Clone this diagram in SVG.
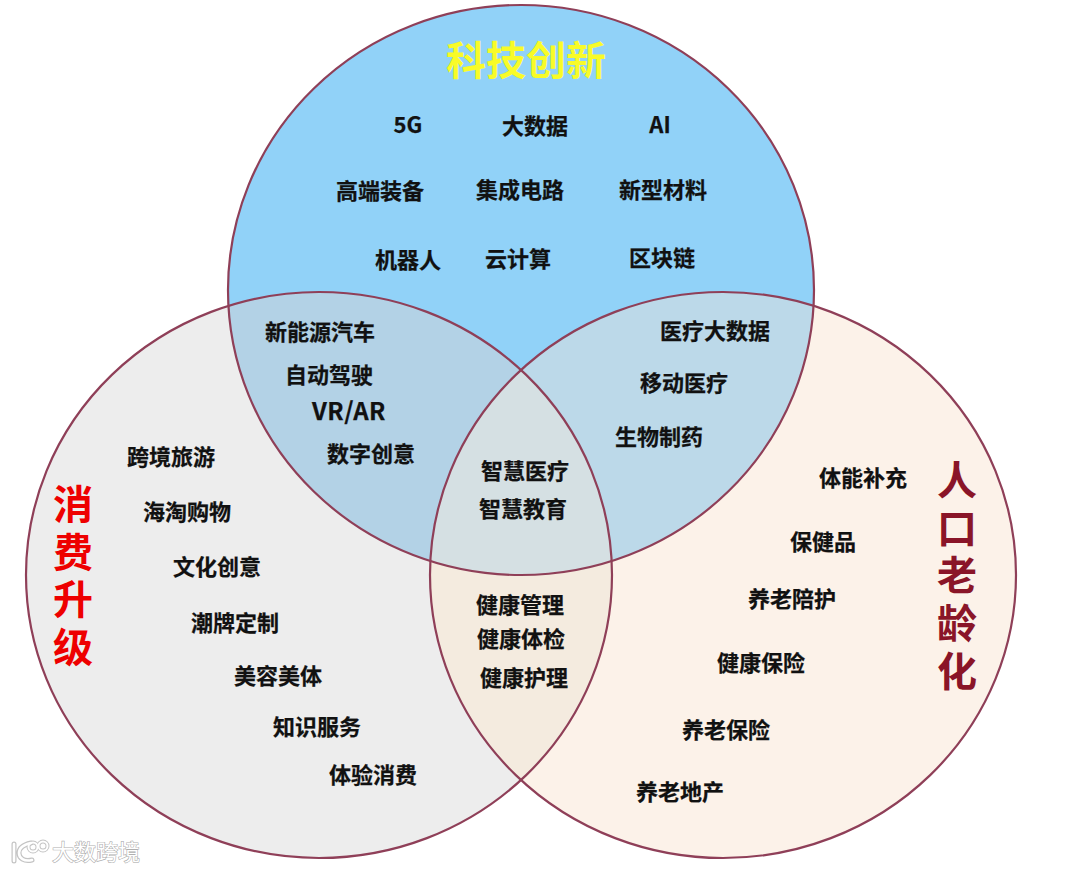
<svg xmlns="http://www.w3.org/2000/svg" width="1080" height="872" viewBox="0 0 1080 872">
<style>
text{font-family:"Noto Sans CJK SC","Liberation Sans",sans-serif;font-weight:700;text-anchor:middle}
.l{font-size:22px;fill:#111;stroke:#111;stroke-width:.25}
.v{writing-mode:vertical-rl;text-anchor:start;font-size:40px;letter-spacing:7.6px}
.o{fill:none;stroke:#8f3f58;stroke-width:2.2}
.wm{font-size:22px;font-weight:400;fill:#fff;stroke:#b0b0b0;stroke-width:1.2;paint-order:stroke}
.wg{fill:none;stroke:#c4c4c4;stroke-width:5;stroke-linecap:round}
.ww{fill:none;stroke:#fff;stroke-width:2.6;stroke-linecap:round}
</style>
<defs>
<clipPath id="cT"><ellipse cx="521" cy="290" rx="293" ry="285"/></clipPath>
<clipPath id="cL"><ellipse cx="319" cy="575" rx="293" ry="283"/></clipPath>
<clipPath id="cR"><ellipse cx="723" cy="575" rx="293" ry="283"/></clipPath>
<path id="logoA" d="M14 844V861M31 843C22 845 19 849 19 853C19 858 24 862 32 860"/>
</defs>
<rect width="1080" height="872" fill="#fff"/>
<g id="regions">
<ellipse cx="521" cy="290" rx="293" ry="285" fill="#91d2f8"/>
<ellipse cx="319" cy="575" rx="293" ry="283" fill="#ededed"/>
<ellipse cx="723" cy="575" rx="293" ry="283" fill="#fcf2e9"/>
<g clip-path="url(#cT)"><ellipse cx="319" cy="575" rx="293" ry="283" fill="#b3d2e6"/><ellipse cx="723" cy="575" rx="293" ry="283" fill="#bcd9e9"/></g>
<g clip-path="url(#cL)"><ellipse cx="723" cy="575" rx="293" ry="283" fill="#f4ebdf"/></g>
<g clip-path="url(#cT)"><g clip-path="url(#cL)"><ellipse cx="723" cy="575" rx="293" ry="283" fill="#d5e0e3"/></g></g>
</g>
<g id="outlines">
<ellipse class="o" cx="521" cy="290" rx="293" ry="285"/>
<ellipse class="o" cx="319" cy="575" rx="293" ry="283"/>
<ellipse class="o" cx="723" cy="575" rx="293" ry="283"/>
</g>
<g id="titles">
<text x="526" y="75" font-size="40" style="fill:#f8fb28">科技创新</text>
<text class="v" x="73" y="484" style="fill:#ee0000">消费升级</text>
<text class="v" x="957" y="460" style="fill:#8a1528">人口老龄化</text>
</g>
<g id="tech-labels">
<text class="l" x="408" y="133">5G</text><text class="l" x="535" y="134">大数据</text><text class="l" x="660" y="133">AI</text>
<text class="l" x="380" y="199">高端装备</text><text class="l" x="520" y="198">集成电路</text><text class="l" x="663" y="198">新型材料</text>
<text class="l" x="408" y="268">机器人</text><text class="l" x="518" y="267">云计算</text><text class="l" x="662" y="266">区块链</text>
</g>
<g id="left-tech-labels">
<text class="l" x="320" y="340">新能源汽车</text><text class="l" x="329" y="383">自动驾驶</text><text class="l" x="349" y="420" style="font-size:24px;letter-spacing:.6px">VR/AR</text><text class="l" x="371" y="462">数字创意</text>
</g>
<g id="right-tech-labels">
<text class="l" x="715" y="339">医疗大数据</text><text class="l" x="684" y="391">移动医疗</text><text class="l" x="659" y="445">生物制药</text>
</g>
<g id="center-labels">
<text class="l" x="525" y="479">智慧医疗</text><text class="l" x="523" y="517">智慧教育</text>
</g>
<g id="left-right-labels">
<text class="l" x="520" y="613">健康管理</text><text class="l" x="521" y="647">健康体检</text><text class="l" x="524" y="686">健康护理</text>
</g>
<g id="consumer-labels">
<text class="l" x="171" y="465">跨境旅游</text><text class="l" x="187" y="520">海淘购物</text><text class="l" x="217" y="575">文化创意</text><text class="l" x="235" y="631">潮牌定制</text><text class="l" x="278" y="684">美容美体</text><text class="l" x="317" y="735">知识服务</text><text class="l" x="373" y="783">体验消费</text>
</g>
<g id="aging-labels">
<text class="l" x="863" y="486">体能补充</text><text class="l" x="823" y="550">保健品</text><text class="l" x="792" y="607">养老陪护</text><text class="l" x="761" y="671">健康保险</text><text class="l" x="726" y="738">养老保险</text><text class="l" x="680" y="800">养老地产</text>
</g>
<g id="watermark">
<use href="#logoA" class="wg"/><circle class="wg" style="stroke-width:4" cx="33" cy="847" r="4.5"/><circle class="wg" style="stroke-width:4" cx="43" cy="846" r="4.5"/>
<use href="#logoA" class="ww"/><circle class="ww" style="stroke-width:2" cx="33" cy="847" r="4.5"/><circle class="ww" style="stroke-width:2" cx="43" cy="846" r="4.5"/>
<text class="wm" x="96" y="860">大数跨境</text>
</g>
</svg>
